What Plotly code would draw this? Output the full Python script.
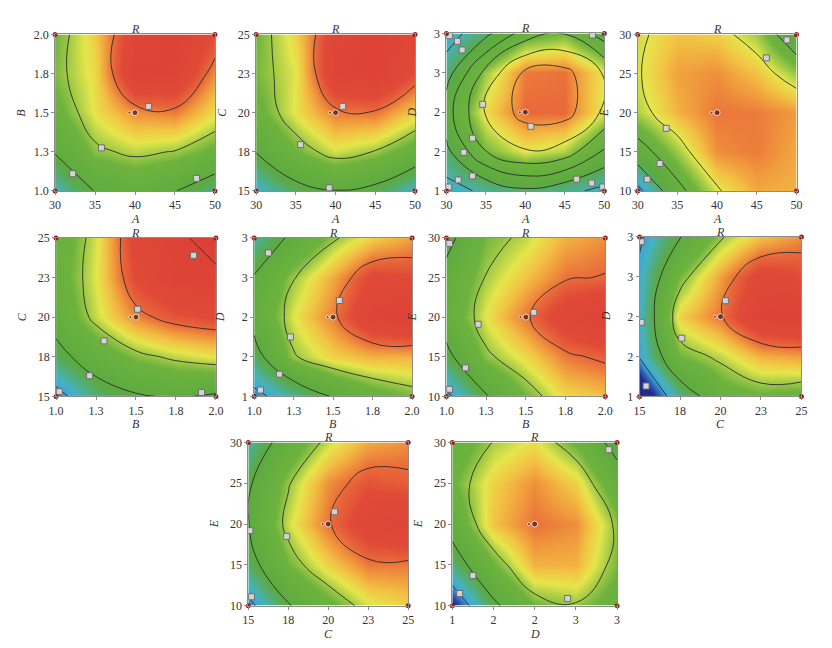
import plotly.graph_objects as go

# factor levels used on the axes
A_VALS = [30, 35, 40, 45, 50]
B_VALS = [1.0, 1.25, 1.5, 1.75, 2.0]
C_VALS = [15, 17.5, 20, 22.5, 25]
D_VALS = [1, 1.5, 2, 2.5, 3]
E_VALS = [10, 15, 20, 25, 30]

# printed tick labels (rounded the way the original software shows them)
A_TEXT = ["30", "35", "40", "45", "50"]
B_TEXT = ["1.0", "1.3", "1.5", "1.8", "2.0"]
C_TEXT = ["15", "18", "20", "23", "25"]
D_TEXT = ["1", "2", "2", "3", "3"]
E_TEXT = ["10", "15", "20", "25", "30"]

# response R; rows = y factor low -> high, cols = x factor low -> high
R_AB = [[15, 30.5, 36, 30.5, 20],
        [31, 48, 52, 49.5, 43],
        [42, 55.8, 66, 68, 56.5],
        [47, 57, 86.5, 85, 66],
        [45, 58.9, 82, 88, 76]]
R_AC = [[13, 25, 29.5, 26, 14],
        [30.5, 45, 54, 49.5, 40],
        [42, 56, 68, 69, 58.5],
        [46, 55, 85, 88, 75],
        [45, 58, 82, 88, 80]]
R_AD = [[12, 18, 24, 19, 13],
        [23.5, 45.8, 55.1, 51.4, 34.8],
        [31.8, 56.8, 70, 70, 54.1],
        [21.5, 49.3, 68, 69, 55],
        [11, 23.3, 40.9, 45.6, 31]]
R_AE = [[6, 36, 54, 63, 62],
        [34, 50, 66, 68, 63],
        [51, 62, 68.5, 68, 64.7],
        [54, 64, 66, 60, 49],
        [53, 60, 58.5, 50, 30]]
R_BC = [[5, 22, 28.5, 31.5, 28],
        [25, 38, 47, 52, 55.5],
        [36, 53, 67, 74, 76.8],
        [40, 55, 77, 86, 88],
        [38, 54, 80, 88, 94]]
R_BD = [[6, 18, 31, 40, 46],
        [24, 49, 58, 62, 62],
        [35, 54.7, 68, 85, 90],
        [31, 49.5, 63, 78, 76],
        [18, 33.4, 48.5, 58, 64]]
R_BE = [[7, 29, 45, 57, 60],
        [26, 48, 57, 68, 72],
        [37, 55.6, 68.5, 82, 88],
        [35, 50.5, 60, 69, 70.5],
        [25, 46, 52.3, 62, 66]]
R_CD = [[-11, 20, 40, 44, 42],
        [11, 45, 52, 62, 64],
        [14, 58, 69, 86, 89],
        [13, 46, 64, 80, 76],
        [8, 29.5, 49, 60, 66]]
R_CE = [[6, 29, 42, 54, 58],
        [24, 45, 58, 68, 68],
        [29.5, 53.3, 69, 82, 86],
        [28, 49, 66, 74, 72],
        [18, 38, 53, 63, 66]]
R_DE = [[-2, 27, 45, 49, 40],
        [22, 44, 62, 62, 46],
        [36, 60, 69, 66, 48],
        [44, 58, 66, 58, 38],
        [38, 50.5, 56, 44, 24]]

# contour flag positions (x, y)
FLAGS_AB = [(41.7, 1.54), (35.8, 1.275), (32.2, 1.11), (47.7, 1.08)]
FLAGS_AC = [(40.9, 20.4), (35.6, 17.96), (39.2, 15.2)]
FLAGS_AD = [(30.4, 2.97), (31.4, 2.9), (32.0, 2.79), (34.6, 2.1), (33.3, 1.67),
            (32.2, 1.49), (33.3, 1.19), (31.5, 1.14), (30.3, 1.05), (40.7, 1.82),
            (48.5, 2.98), (46.5, 1.15), (48.4, 1.1), (49.8, 1.05)]
FLAGS_AE = [(48.8, 29.3), (46.2, 27.0), (33.6, 18.0), (32.8, 13.5), (31.2, 11.5)]
FLAGS_BC = [(1.86, 23.9), (1.51, 20.5), (1.3, 18.5), (1.21, 16.3), (1.02, 15.3), (1.91, 15.25)]
FLAGS_BD = [(1.09, 2.81), (1.54, 2.21), (1.23, 1.75), (1.16, 1.28), (1.04, 1.08)]
FLAGS_BE = [(1.02, 29.3), (1.55, 20.6), (1.2, 19.1), (1.12, 13.6), (1.02, 10.9)]
FLAGS_CD = [(15.1, 2.94), (20.3, 2.2), (17.6, 1.73), (15.1, 1.93), (15.4, 1.13)]
FLAGS_CE = [(20.4, 21.5), (17.4, 18.5), (15.1, 19.2), (15.2, 11.1)]
FLAGS_DE = [(2.9, 29.1), (1.25, 13.7), (1.09, 11.5), (2.4, 10.9)]

FACTORS = {"A": (A_VALS, A_TEXT), "B": (B_VALS, B_TEXT), "C": (C_VALS, C_TEXT),
           "D": (D_VALS, D_TEXT), "E": (E_VALS, E_TEXT)}

# x factor, y factor, surface, flags, contour start, contour step
PANELS = [("A", "B", R_AB, FLAGS_AB, 10, 20),
          ("A", "C", R_AC, FLAGS_AC, 10, 20),
          ("A", "D", R_AD, FLAGS_AD, 6, 10),
          ("A", "E", R_AE, FLAGS_AE, 10, 15),
          ("B", "C", R_BC, FLAGS_BC, 10, 20),
          ("B", "D", R_BD, FLAGS_BD, 10, 20),
          ("B", "E", R_BE, FLAGS_BE, 10, 20),
          ("C", "D", R_CD, FLAGS_CD, -10, 20),
          ("C", "E", R_CE, FLAGS_CE, 10, 20),
          ("D", "E", R_DE, FLAGS_DE, 10, 20)]

W, H = 832, 648
# plot boxes in pixels: left, right, top, bottom
BOXES = [(48, 211, 28, 188), (253, 415, 28, 188), (447, 608, 27, 188), (642, 804, 28, 188),
         (49, 212, 236, 398), (251, 412, 236, 398), (447, 609, 236, 398), (644, 809, 235, 398),
         (245, 408, 445, 612), (453, 621, 445, 612)]

ZMAX = 95
stops = [(0, "#1d2b8a"), (5, "#2d5fb6"), (10, "#3ca4d8"), (15, "#45b3c2"),
         (22, "#52ad78"), (28, "#5caa40"), (45, "#6eb33e"), (50, "#a2cb46"),
         (55, "#e6e64c"), (60, "#f2c444"), (65, "#f0993d"), (70, "#e9683a"),
         (76, "#e04a37"), (95, "#dc3f36")]
colorscale = [[z / ZMAX, c] for z, c in stops]

SERIF = "Liberation Serif, Times New Roman, serif"

fig = go.Figure()
annotations = []

for i, (fx, fy, surf, flags, c0, dc) in enumerate(PANELS, start=1):
    xv, xt = FACTORS[fx]
    yv, yt = FACTORS[fy]
    xa = "x" if i == 1 else f"x{i}"
    ya = "y" if i == 1 else f"y{i}"

    fig.add_trace(go.Contour(
        x=xv, y=yv, z=surf, zmin=0, zmax=ZMAX, colorscale=colorscale,
        showscale=False, hoverinfo="skip",
        contours=dict(coloring="heatmap", start=c0, end=120, size=dc, showlabels=False),
        line=dict(color="#2b2b2b", width=0.9, smoothing=1.3),
        xaxis=xa, yaxis=ya))

    # contour flags
    fig.add_trace(go.Scatter(
        x=[p[0] for p in flags], y=[p[1] for p in flags], mode="markers",
        marker=dict(symbol="square", size=6, color="#d4d4d4",
                    line=dict(color="#6e6e6e", width=1)),
        hoverinfo="skip", showlegend=False, xaxis=xa, yaxis=ya))

    # factorial corner points
    fig.add_trace(go.Scatter(
        x=[xv[0], xv[-1], xv[0], xv[-1]], y=[yv[0], yv[0], yv[-1], yv[-1]],
        mode="markers", marker=dict(size=5, color="#8e2222"), cliponaxis=False,
        hoverinfo="skip", showlegend=False, xaxis=xa, yaxis=ya))

    # centre point with its replicate tag
    xc, yc = xv[2], yv[2]
    fig.add_trace(go.Scatter(
        x=[xc - 0.035 * (xv[-1] - xv[0]), xc], y=[yc, yc], mode="markers",
        marker=dict(size=[3, 6], color="#4a1818"),
        hoverinfo="skip", showlegend=False, xaxis=xa, yaxis=ya))

    x0, x1, y0, y1 = BOXES[i - 1]
    axis_common = dict(showline=True, mirror=True, linecolor="#8c8c8c", linewidth=1,
                       ticks="outside", ticklen=3, tickcolor="#8c8c8c",
                       showgrid=False, zeroline=False,
                       tickfont=dict(family=SERIF, size=12, color="#333333"))
    fig.update_layout({
        ("xaxis" if i == 1 else f"xaxis{i}"): dict(
            domain=[x0 / W, x1 / W], anchor=ya, range=[xv[0], xv[-1]],
            tickvals=xv, ticktext=xt, **axis_common),
        ("yaxis" if i == 1 else f"yaxis{i}"): dict(
            domain=[1 - y1 / H, 1 - y0 / H], anchor=xa, range=[yv[0], yv[-1]],
            tickvals=yv, ticktext=yt, **axis_common),
    })

    title_font = dict(family=SERIF, size=12, color="#333333")
    annotations.append(dict(text="<i>R</i>", x=(x0 + x1) / 2 / W, y=1 - y0 / H,
                            xref="paper", yref="paper", xanchor="center", yanchor="bottom",
                            yshift=-3, height=12, showarrow=False, font=title_font))
    annotations.append(dict(text=f"<i>{fx}</i>", x=(x0 + x1) / 2 / W, y=1 - y1 / H,
                            xref="paper", yref="paper", xanchor="center", yanchor="top",
                            yshift=-20, height=12, showarrow=False, font=title_font))
    annotations.append(dict(text=f"<i>{fy}</i>", x=x0 / W, y=1 - (y0 + y1) / 2 / H,
                            xref="paper", yref="paper", xanchor="right", yanchor="middle",
                            xshift=-25, textangle=-90, showarrow=False, font=title_font))

fig.update_layout(
    width=W, height=H, margin=dict(l=0, r=0, t=0, b=0),
    paper_bgcolor="white", plot_bgcolor="white", showlegend=False,
    annotations=annotations)

fig.write_html("out.html", config={"displayModeBar": False},
               post_script="document.body.style.margin='0';document.body.style.padding='0';")
